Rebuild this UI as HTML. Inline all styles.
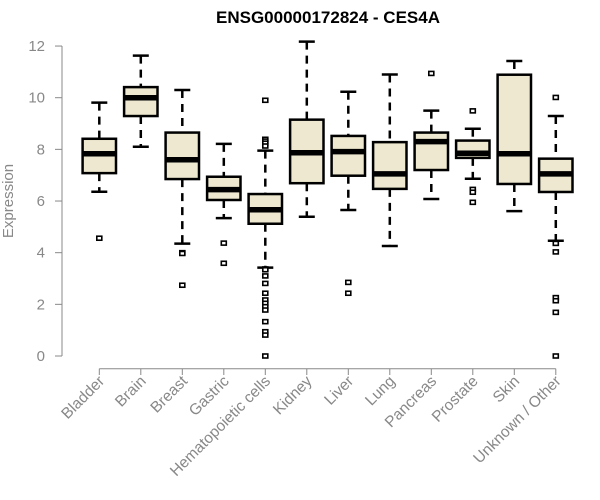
<!DOCTYPE html>
<html><head><meta charset="utf-8"><style>
body{margin:0;background:#fff}
svg{display:block;font-family:"Liberation Sans",Arial,sans-serif}
</style></head><body>
<svg id="chart" width="600" height="500">
<text x="328" y="23" text-anchor="middle" font-weight="bold" font-size="17">ENSG00000172824 - CES4A</text>
<text transform="translate(13,201) rotate(-90)" text-anchor="middle" font-size="15" fill="#888">Expression</text>
</svg>
<script>
const categories=["Bladder","Brain","Breast","Gastric","Hematopoietic cells","Kidney","Liver","Lung","Pancreas","Prostate","Skin","Unknown / Other"];
const whiskLow=[6.36,8.10,4.35,5.34,3.42,5.39,5.65,4.26,6.08,6.86,5.61,4.46];
const q1=[7.08,9.29,6.85,6.04,5.12,6.69,6.98,6.47,7.20,7.67,6.66,6.35];
const median=[7.83,10.0,7.6,6.44,5.66,7.87,7.91,7.05,8.30,7.85,7.83,7.05];
const q3=[8.41,10.41,8.65,6.94,6.27,9.15,8.52,8.28,8.65,8.34,10.89,7.64];
const whiskHigh=[9.81,11.63,10.3,8.21,7.95,12.17,10.23,10.9,9.5,8.8,11.42,9.29];
const outliers=[[4.56],[],[4.0,3.97,2.74],[4.37,3.59],[9.9,8.39,8.32,8.24,8.13,3.37,3.34,3.10,2.81,2.43,2.17,2.04,1.91,1.78,1.33,0.94,0.81,0.0],[],[2.85,2.43],[],[10.94],[9.49,6.45,6.34,5.95],[],[10.01,4.36,4.03,2.26,2.14,1.69,0.0]];
const yTicks=[0,2,4,6,8,10,12];
const NS="http://www.w3.org/2000/svg";
const svg=document.getElementById('chart');
const y=v=>356-v*25.83;
const x=i=>99.3+41.5*i;
const hw=16.7;
function mk(t,a,parent){const e=document.createElementNS(NS,t);for(const k in a)e.setAttribute(k,a[k]);(parent||svg).appendChild(e);return e;}
const ya=mk('g',{});


mk('line',{x1:62,x2:62,y1:y(0),y2:y(12),stroke:'#888'},ya);
yTicks.forEach(t=>{
  mk('line',{x1:55,x2:62,y1:y(t),y2:y(t),stroke:'#888'},ya);
  const tx=mk('text',{x:45,y:y(t)+5,'text-anchor':'end','font-size':15,fill:'#888'},ya);
  tx.textContent=t;
  
  
});
const xa=mk('g',{});


mk('line',{x1:x(0),x2:x(categories.length-1),y1:368.7,y2:368.7,stroke:'#888'},xa);
categories.forEach((c,i)=>{
  mk('line',{x1:x(i),x2:x(i),y1:368.7,y2:375,stroke:'#888'},xa);
  const tx=mk('text',{transform:`translate(${x(i)+6},${382}) rotate(-45)`,'text-anchor':'end','font-size':15.5,fill:'#888'},xa);
  tx.textContent=c;
  
  
});
categories.forEach((c,i)=>{
  const g=mk('g',{});
  
  
  const cx=x(i);
  mk('line',{x1:cx,x2:cx,y1:y(whiskHigh[i]),y2:y(q3[i]),stroke:'#000','stroke-width':2.5,'stroke-dasharray':'8,6'},g);
  mk('line',{x1:cx,x2:cx,y1:y(q1[i]),y2:y(whiskLow[i]),stroke:'#000','stroke-width':2.5,'stroke-dasharray':'8,6'},g);
  mk('line',{x1:cx-8,x2:cx+8,y1:y(whiskHigh[i]),y2:y(whiskHigh[i]),stroke:'#000','stroke-width':2.5},g);
  mk('line',{x1:cx-8,x2:cx+8,y1:y(whiskLow[i]),y2:y(whiskLow[i]),stroke:'#000','stroke-width':2.5},g);
  mk('rect',{x:cx-hw,y:y(q3[i]),width:2*hw,height:y(q1[i])-y(q3[i]),fill:'#ede8cf',stroke:'#000','stroke-width':2.5},g);
  mk('line',{x1:cx-hw,x2:cx+hw,y1:y(median[i]),y2:y(median[i]),stroke:'#000','stroke-width':5.5},g);
  outliers[i].forEach(v=>{
    const o=mk('rect',{x:cx-2.5,y:y(v)-2,width:5,height:4,fill:'#fff',stroke:'#000','stroke-width':1.6},g);
    
    
  });
});
</script>
</body></html>
